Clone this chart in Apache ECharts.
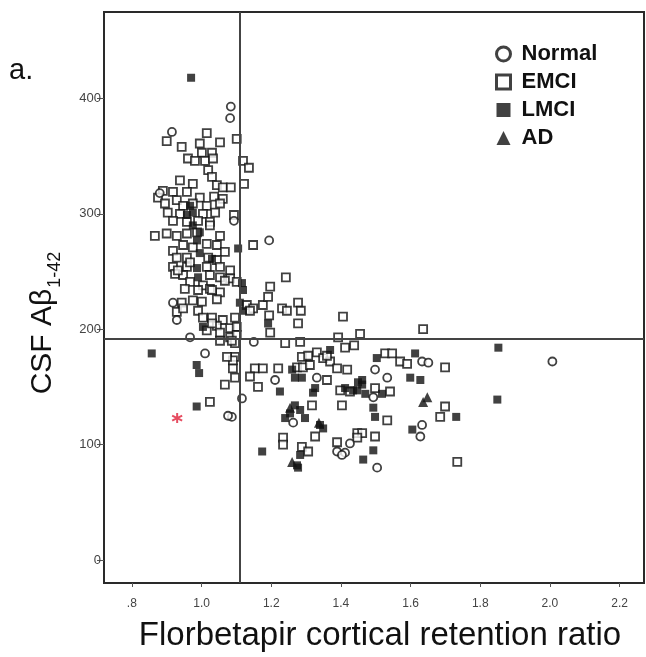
<!DOCTYPE html>
<html><head><meta charset="utf-8">
<script src="https://cdn.jsdelivr.net/npm/echarts@6/dist/echarts.min.js"></script>
<style>html,body{margin:0;padding:0;background:#fff}#c{width:646px;height:657px}</style>
</head><body><div id="c"></div>
<script>
// ---- data ----
const groupNames = ['Normal', 'EMCI', 'LMCI', 'AD'];
const normal = [[1.084,393],[1.082,383],[0.915,371],[0.880,318],[1.093,294],[1.194,277],[0.918,223],[0.929,208],[0.967,193],[1.150,189],[1.116,140],[1.087,124],[1.076,125],[1.211,156],[1.331,158],[1.263,119],[1.389,94],[1.412,93],[1.426,101],[1.633,172],[1.651,171],[1.498,165],[1.533,158],[1.493,141],[1.633,117],[1.628,107],[1.504,80],[1.010,179],[2.007,172],[1.403,91]];
const emci = [[0.900,363],[1.015,370],[1.053,362],[1.101,365],[0.995,361],[0.943,358],[1.001,353],[1.030,353],[0.961,348],[0.981,346],[1.010,346],[1.033,348],[1.119,346],[1.136,340],[1.019,338],[1.030,332],[1.122,326],[1.044,325],[1.061,323],[1.084,323],[0.938,329],[0.975,326],[0.889,320],[0.918,319],[0.875,314],[0.958,319],[0.995,314],[1.036,315],[1.061,313],[0.895,309],[0.929,312],[0.947,307],[0.975,309],[1.015,307],[1.053,309],[0.903,301],[0.938,300],[1.004,300],[1.039,301],[1.093,299],[0.918,294],[0.958,293],[0.990,294],[1.024,293],
[0.866,281],[0.900,283],[0.929,281],[0.958,283],[0.987,284],[1.024,290],[1.053,281],[1.148,273],[0.918,268],[0.947,273],[0.975,271],[1.015,274],[1.044,273],[1.067,267],[0.929,262],[0.958,262],[1.019,262],[1.044,260],[0.918,254],[0.958,254],[1.015,254],[1.053,254],[1.082,251],[0.924,248],[0.947,247],[1.024,247],[1.053,245],[1.082,244],[1.101,241],[0.967,241],[1.004,238],[0.952,235],[0.990,234],[1.024,235],[1.053,232],[0.943,223],[0.975,225],[1.001,224],[1.044,226],[1.130,221],[1.148,218],[0.929,215],[0.947,218],[0.990,216],[1.030,210],[1.061,208],[1.096,210],[1.044,203],[1.082,201],[1.101,202],[1.015,199],[1.053,197],[1.082,193],[1.101,195],
[1.139,216],[1.176,221],[1.194,212],[1.231,218],[1.245,216],[1.277,223],[1.285,216],[1.191,228],[1.197,197],[1.277,205],[1.406,211],[1.240,188],[1.283,189],[1.096,188],[1.096,176],[1.090,166],[1.096,158],[1.153,166],[1.176,166],[1.139,159],[1.162,150],[1.220,166],[1.274,167],[1.291,167],[1.311,169],[1.288,176],[1.306,177],[1.331,180],[1.349,175],[1.369,172],[1.389,166],[1.418,165],[1.360,156],[1.403,134],[1.398,147],[1.412,184],[1.392,193],[1.317,134],[1.326,107],[1.234,106],[1.234,100],[1.288,98],[1.306,94],[1.389,102],[1.447,110],
[1.455,196],[1.636,200],[1.527,179],[1.547,179],[1.570,172],[1.590,170],[1.699,167],[1.541,146],[1.498,149],[1.533,121],[1.426,146],[1.699,133],[1.685,124],[1.461,110],[1.447,106],[1.498,107],[1.734,85],
[1.024,137],[1.067,152],[1.090,173],[1.073,176],[1.004,210],[1.030,205],[1.053,190],[1.087,190],[1.242,245],[1.197,237],[1.438,186],[1.360,177],[0.932,251],[0.967,258],[1.030,234],[1.067,242]];
const lmci = [[0.970,418],[0.967,307],[0.975,301],[1.105,270],[0.995,266],[0.987,253],[0.990,245],[1.116,240],[1.110,223],[1.004,202],[1.191,205],[1.225,146],[1.260,165],[1.268,158],[1.288,158],[1.369,182],[1.412,149],[1.435,147],[1.268,134],[1.254,127],[1.283,130],[1.297,123],[1.320,145],[1.326,149],[1.240,123],[1.340,117],[1.349,114],[1.174,94],[1.283,91],[1.274,82],[1.277,80],[1.503,175],[1.613,179],[1.599,158],[1.628,156],[1.461,156],[1.447,147],[1.470,144],[1.518,144],[1.493,132],[1.498,124],[1.731,124],[1.605,113],[1.493,95],[1.464,87],[0.857,179],[0.986,169],[0.993,162],[0.986,133],[1.119,216],[1.852,184],[1.849,139],[1.119,234],[0.975,290],[0.987,277],[0.995,284],[0.958,299],[1.030,261],[1.449,154],[1.461,152]];
const ad = [[1.260,85],[1.337,119],[1.254,132],[1.648,141],[1.636,137]];
const highlighted = [[0.93,123]];
const refX = 1.11;
const refY = 192;
const xTitle = 'Florbetapir cortical retention ratio';
const yTitleMain = 'CSF Aβ';
const yTitleSub = '1-42';
const panelLabel = 'a.';

// ---- chart ----
const FONT = '"Liberation Sans", Arial, sans-serif';
const INK = '#111';
const openStyle = {color: '#fff', borderColor: INK, borderWidth: 1.8};
const chart = echarts.init(document.getElementById('c'), null, {renderer: 'canvas'});
chart.setOption({
  animation: false,
  backgroundColor: '#fff',
  grid: {left: 104, right: 2, top: 12, bottom: 74, show: true, borderColor: '#2a2a2a', borderWidth: 2},
  xAxis: {
    type: 'value', min: 0.72, max: 2.27, splitNumber: 8,
    splitLine: {show: false}, axisLine: {show: false, onZero: false},
    axisTick: {show: true, length: 4, lineStyle: {color: '#555'}},
    axisLabel: {showMinLabel: false, showMaxLabel: false, fontSize: 12, color: '#444', margin: 15, fontFamily: FONT,
      formatter: v => v < 1 ? v.toFixed(1).replace(/^0/, '') : v.toFixed(1)}
  },
  yAxis: {
    type: 'value', min: -20, max: 475, splitNumber: 5,
    splitLine: {show: false}, axisLine: {show: false, onZero: false},
    axisTick: {show: true, length: 7, lineStyle: {color: '#555'}},
    axisLabel: {showMinLabel: false, showMaxLabel: false, fontSize: 13, color: '#444', margin: 3, fontFamily: FONT}
  },
  legend: {
    orient: 'vertical', left: 490, top: 38, itemWidth: 14, itemHeight: 14, itemGap: 6,
    textStyle: {fontSize: 22, fontWeight: 'bold', color: '#111', fontFamily: FONT, padding: [0, 0, 0, 6]},
    data: [
      {name: groupNames[0], itemStyle: {borderWidth: 3}},
      {name: groupNames[1], itemStyle: {borderWidth: 3}},
      {name: groupNames[2]},
      {name: groupNames[3]}
    ]
  },
  graphic: [
    {type: 'text', left: 9, top: 56, style: {text: panelLabel, font: '29px ' + FONT, fill: '#111'}},
    {type: 'text', x: 380, y: 636, style: {text: xTitle, font: '33px ' + FONT, fill: '#111', align: 'center', verticalAlign: 'middle'}},
    {type: 'text', x: 40, y: 323, rotation: Math.PI / 2,
      style: {text: '{a|' + yTitleMain + '}{s|' + yTitleSub + '}', align: 'center', verticalAlign: 'middle',
        rich: {a: {font: '30px ' + FONT, fill: '#111', lineHeight: 36, verticalAlign: 'bottom'},
               s: {font: '18px ' + FONT, fill: '#111', lineHeight: 36, verticalAlign: 'bottom', padding: [0, 0, -6, 1]}}}}
  ],
  series: [
    {name: groupNames[1], type: 'scatter', symbol: 'rect', symbolSize: 8, itemStyle: openStyle, data: emci,
      markLine: {silent: true, symbol: 'none', label: {show: false}, lineStyle: {color: '#444', width: 2, type: 'solid'},
        data: [{xAxis: refX}, {yAxis: refY}]}},
    {name: groupNames[0], type: 'scatter', symbol: 'circle', symbolSize: 8, itemStyle: openStyle, data: normal},
    {name: groupNames[2], type: 'scatter', symbol: 'rect', symbolSize: 8, itemStyle: {color: INK}, data: lmci},
    {name: groupNames[3], type: 'scatter', symbol: 'triangle', symbolSize: 10, itemStyle: {color: INK}, data: ad},
    {name: 'highlight', type: 'scatter', symbol: 'path://M0,-6L0,6M-5.2,-3L5.2,3M-5.2,3L5.2,-3', symbolSize: 10,
      itemStyle: {color: 'rgba(0,0,0,0)', borderColor: '#e0203a', borderWidth: 2}, data: highlighted}
  ]
});
</script></body></html>
